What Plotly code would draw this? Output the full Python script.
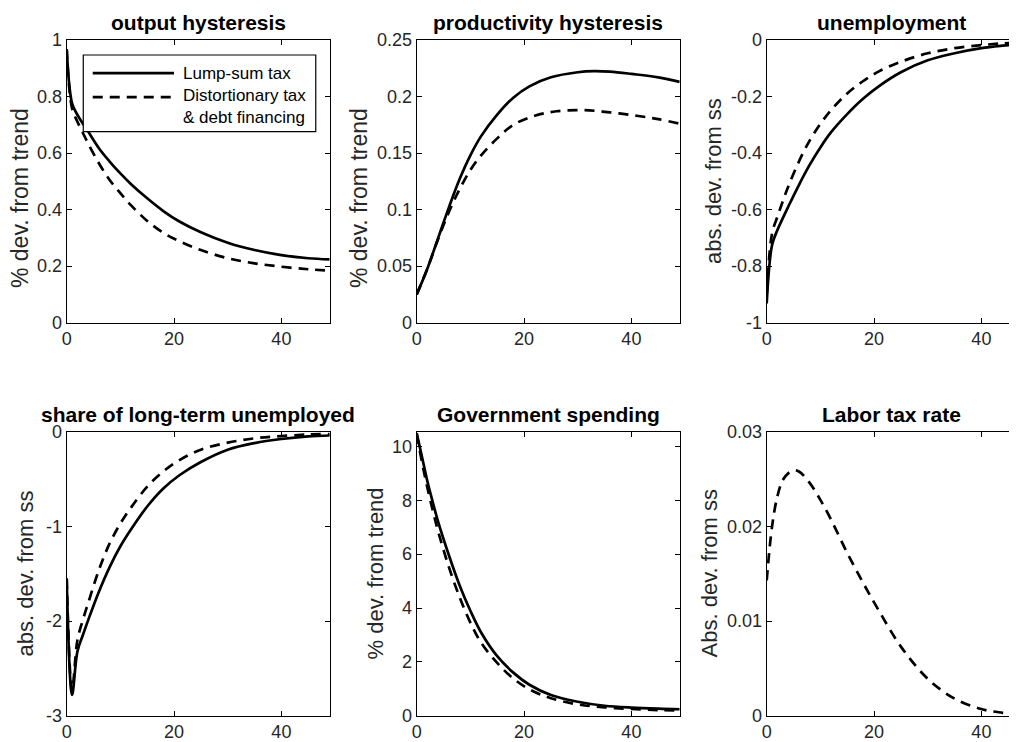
import plotly.graph_objects as go
from plotly.subplots import make_subplots

# impulse responses (period, value)
out_x = [0, 1, 2, 3, 4, 6, 8, 10, 12, 15, 18, 21, 25, 30, 35, 40, 45, 49]
out_lump = [0.967, 0.776, 0.735, 0.705, 0.676, 0.617, 0.57, 0.528, 0.49, 0.44, 0.395, 0.358,
            0.32, 0.283, 0.257, 0.239, 0.228, 0.224]
out_dist = [0.967, 0.758, 0.711, 0.672, 0.634, 0.564, 0.505, 0.458, 0.415, 0.36, 0.318, 0.288,
            0.257, 0.228, 0.21, 0.198, 0.189, 0.184]

prod_x = [0, 2, 4, 6, 8, 10, 12, 15, 18, 21, 25, 30, 33, 36, 40, 45, 49]
prod_lump = [0.025, 0.048, 0.075, 0.102, 0.127, 0.148, 0.165, 0.184, 0.199, 0.209, 0.217,
             0.2215, 0.2225, 0.222, 0.220, 0.217, 0.213]
prod_dist_x = [0, 2, 4, 6, 8, 10, 12, 15, 18, 22, 26, 31, 36, 41, 45, 49]
prod_dist = [0.025, 0.048, 0.074, 0.098, 0.118, 0.135, 0.148, 0.163, 0.175, 0.183, 0.187,
             0.188, 0.186, 0.183, 0.18, 0.176]

unemp_x = [0, 1, 2, 3, 4, 6, 8, 10, 12, 15, 18, 21, 25, 30, 35, 40, 44, 47]
unemp_lump = [-0.932, -0.725, -0.672, -0.63, -0.59, -0.513, -0.442, -0.38, -0.326, -0.262,
              -0.207, -0.162, -0.114, -0.072, -0.047, -0.029, -0.02, -0.015]
unemp_dist = [-0.90, -0.684, -0.625, -0.57, -0.519, -0.43, -0.356, -0.297, -0.248, -0.189,
              -0.145, -0.11, -0.077, -0.047, -0.029, -0.018, -0.012, -0.009]

ltu_x = [0, 1, 2, 3, 4, 6, 8, 10, 12, 15, 18, 21, 25, 30, 35, 40, 45, 49]
ltu_lump = [-1.55, -2.78, -2.32, -2.15, -1.99, -1.69, -1.43, -1.21, -1.03, -0.79, -0.6, -0.46,
            -0.32, -0.19, -0.12, -0.077, -0.05, -0.04]
ltu_dist = [-1.55, -2.73, -2.2, -1.99, -1.81, -1.46, -1.18, -0.97, -0.8, -0.58, -0.42, -0.3,
            -0.19, -0.116, -0.07, -0.046, -0.03, -0.025]

gov_x = [0, 1, 2, 3, 4, 6, 8, 10, 12, 15, 18, 21, 25, 30, 35, 40, 45, 49]
gov_lump = [10.5, 9.6, 8.7, 7.93, 7.2, 5.96, 4.84, 3.9, 3.09, 2.21, 1.6, 1.15, 0.77, 0.52,
            0.37, 0.30, 0.26, 0.24]
gov_dist = [10.46, 9.4, 8.46, 7.62, 6.84, 5.52, 4.4, 3.46, 2.71, 1.96, 1.38, 0.98, 0.65, 0.42,
            0.31, 0.25, 0.21, 0.19]

tax_x = [0, 1, 2, 3, 4, 5, 6, 8, 10, 12, 15, 18, 21, 25, 30, 35, 40, 44, 47]
tax_dist = [0.0143, 0.02, 0.0232, 0.0249, 0.0256, 0.0259, 0.0258, 0.0246, 0.0228, 0.0207,
            0.0172, 0.014, 0.011, 0.0073, 0.0039, 0.0018, 0.0007, 0.0003, 0.0001]

titles = ["output hysteresis", "productivity hysteresis", "unemployment",
          "share of long-term unemployed", "Government spending", "Labor tax rate"]
ylabels = ["% dev. from trend", "% dev. from trend", "abs. dev. from ss",
           "abs. dev. from ss", "% dev. from trend", "Abs. dev. from ss"]
ytick_vals = [
    [0, 0.2, 0.4, 0.6, 0.8, 1],
    [0, 0.05, 0.1, 0.15, 0.2, 0.25],
    [-1, -0.8, -0.6, -0.4, -0.2, 0],
    [-3, -2, -1, 0],
    [0, 2, 4, 6, 8, 10],
    [0, 0.01, 0.02, 0.03],
]
ytick_text = [
    ["0", "0.2", "0.4", "0.6", "0.8", "1"],
    ["0", "0.05", "0.1", "0.15", "0.2", "0.25"],
    ["-1", "-0.8", "-0.6", "-0.4", "-0.2", "0"],
    ["-3", "-2", "-1", "0"],
    ["0", "2", "4", "6", "8", "10"],
    ["0", "0.01", "0.02", "0.03"],
]
yranges = [[0, 1], [0, 0.25], [-1, 0], [-3, 0], [0, 10.55], [0, 0.03]]
xtick_vals = [0, 20, 40]
legend_names = ["Lump-sum tax", "Distortionary tax<br>& debt financing"]

FONT = "Liberation Sans, Arial, Helvetica, sans-serif"
OFF = 8                      # page body margin
W, H = 1017 - OFF, 742 - OFF

fig = make_subplots(rows=2, cols=3)

panels = [
    (1, 1, out_x, out_lump, out_x, out_dist),
    (1, 2, prod_x, prod_lump, prod_dist_x, prod_dist),
    (1, 3, unemp_x, unemp_lump, unemp_x, unemp_dist),
    (2, 1, ltu_x, ltu_lump, ltu_x, ltu_dist),
    (2, 2, gov_x, gov_lump, gov_x, gov_dist),
    (2, 3, None, None, tax_x, tax_dist),
]
for r, c, xs, ys, xd, yd in panels:
    if xs is not None:
        fig.add_trace(go.Scatter(x=xs, y=ys, mode="lines", line_shape="spline",
                                 line=dict(color="black", width=2.7), showlegend=False),
                      row=r, col=c)
    fig.add_trace(go.Scatter(x=xd, y=yd, mode="lines", line_shape="spline",
                             line=dict(color="black", width=2.7, dash="10px,7px"),
                             showlegend=False),
                  row=r, col=c)

# axes geometry in screen pixels (MATLAB layout)
col_left = [66.7, 416.7, 766.7]
col_w = 263.0
row_top = [40.0, 431.7]
row_bot = [322.7, 715.7]
ylab_shift = [[-46, -57, -53], [-41, -41, -57]]
ylab_size = [[23, 23, 22], [22, 22, 22]]
ylab_pos = [[0.44, 0.44, 0.5], [0.5, 0.5, 0.5]]

annotations = []
for i in range(6):
    r, c = i // 3, i % 3
    n = i + 1
    x0 = (col_left[c] - OFF) / W
    x1 = min((col_left[c] + col_w - OFF) / W, 1.0)
    xmax = 49 if c < 2 else 49 * (1017 - col_left[c]) / col_w
    y0 = 1 - (row_bot[r] - OFF) / H
    y1 = 1 - (row_top[r] - OFF) / H
    xa = "xaxis" if n == 1 else f"xaxis{n}"
    ya = "yaxis" if n == 1 else f"yaxis{n}"
    fig.layout[xa].update(domain=[x0, x1], range=[0, xmax], tickvals=xtick_vals,
                          showline=True, linecolor="black", linewidth=1.3,
                          mirror="ticks", ticks="inside", ticklen=5, tickcolor="black",
                          showgrid=False, zeroline=False, automargin=False,
                          tickfont=dict(family=FONT, size=18, color="#262626"))
    fig.layout[ya].update(domain=[y0, y1], range=yranges[i], tickvals=ytick_vals[i],
                          ticktext=ytick_text[i],
                          showline=True, linecolor="black", linewidth=1.3,
                          mirror="ticks" if c < 2 else False,
                          ticks="inside", ticklen=5, tickcolor="black",
                          showgrid=False, zeroline=False, automargin=False,
                          tickfont=dict(family=FONT, size=18, color="#262626"))
    xr = "x" if n == 1 else f"x{n}"
    yr = "y" if n == 1 else f"y{n}"
    annotations.append(dict(text="<b>" + titles[i] + "</b>", xref=xr + " domain",
                            yref=yr + " domain", x=0.5, y=1, xanchor="center",
                            yanchor="bottom", yshift=4, showarrow=False,
                            font=dict(family=FONT, size=21, color="black")))
    annotations.append(dict(text=ylabels[i], xref=xr + " domain", yref=yr + " domain",
                            x=0, y=ylab_pos[r][c], xanchor="center", yanchor="middle",
                            xshift=ylab_shift[r][c], textangle=-90, showarrow=False,
                            font=dict(family=FONT, size=ylab_size[r][c], color="#262626")))

# legend box in the first panel
shapes = [
    dict(type="rect", xref="x domain", yref="y domain", x0=0.063, x1=0.947, y0=0.676,
         y1=0.947, line=dict(color="black", width=1.2), fillcolor="white", layer="above"),
    dict(type="line", xref="x domain", yref="y domain", x0=0.099, x1=0.408, y0=0.883,
         y1=0.883, line=dict(color="black", width=2.7)),
    dict(type="line", xref="x domain", yref="y domain", x0=0.099, x1=0.408, y0=0.798,
         y1=0.798, line=dict(color="black", width=2.7, dash="10px,7px")),
]
annotations.append(dict(text=legend_names[0], xref="x domain", yref="y domain", x=0.435,
                        y=0.883, xanchor="left", yanchor="middle", showarrow=False,
                        font=dict(family=FONT, size=17, color="black")))
annotations.append(dict(text=legend_names[1], xref="x domain", yref="y domain", x=0.435,
                        y=0.763, xanchor="left", yanchor="middle", align="left",
                        showarrow=False, font=dict(family=FONT, size=17, color="black")))

fig.update_layout(width=W, height=H, margin=dict(l=0, r=0, t=0, b=0),
                  paper_bgcolor="white", plot_bgcolor="white",
                  annotations=annotations, shapes=shapes, showlegend=False)

fig.write_html("out.html")
